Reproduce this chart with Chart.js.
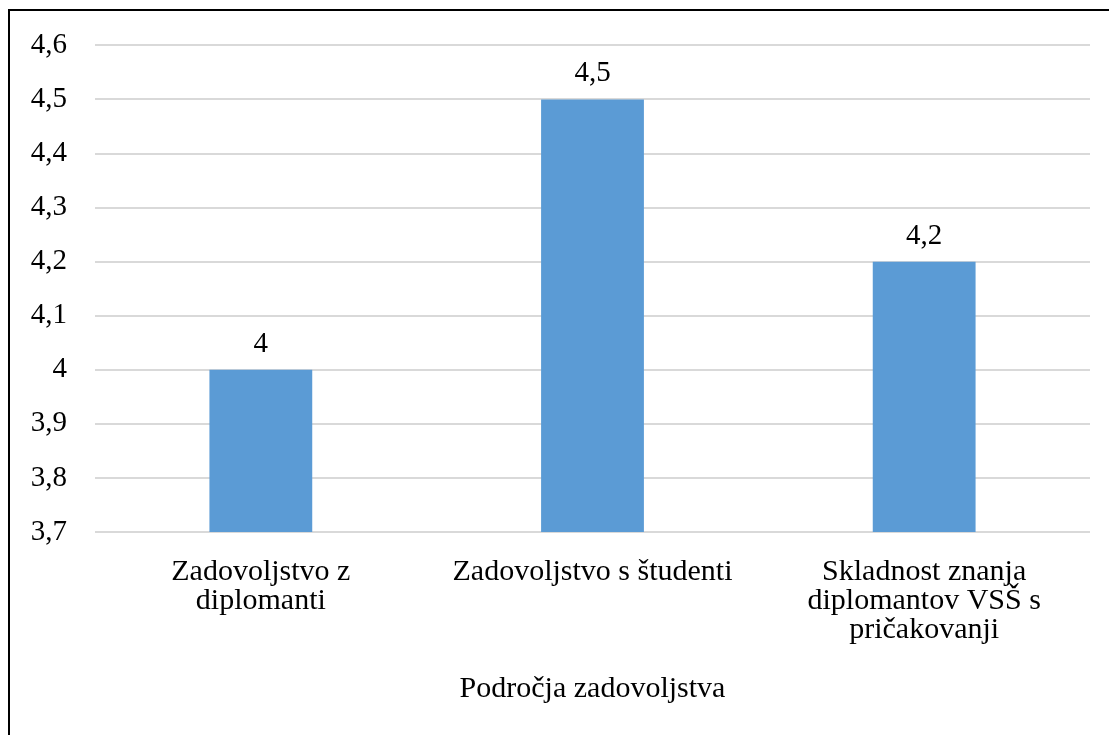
<!DOCTYPE html>
<html>
<head>
<meta charset="utf-8">
<script src="https://cdn.jsdelivr.net/npm/chart.js@4"></script>
<style>
  html, body { margin: 0; padding: 0; background: #fff; overflow: hidden; }
  #frame { position: absolute; left: 8px; top: 9px; width: 1200px; height: 800px; border: 2px solid #000; box-sizing: border-box; }
  #wrap { position: absolute; left: 0; top: 0; width: 1109px; height: 735px; }
</style>
</head>
<body>
<div id="frame"></div>
<div id="wrap"><canvas id="chart"></canvas></div>
<script>
// categories and values
const categories = [
    ['Zadovoljstvo z', 'diplomanti'],
    'Zadovoljstvo s študenti',
    ['Skladnost znanja', 'diplomantov VSŠ s', 'pričakovanji']
];
const values = [4.0, 4.5, 4.2];
const yTicks = [3.7, 3.8, 3.9, 4.0, 4.1, 4.2, 4.3, 4.4, 4.5, 4.6];
const xTitle = 'Področja zadovoljstva';

const fmt = v => String(+v.toFixed(1)).replace('.', ',');
const FONT = 'Liberation Serif';

const valueLabels = {
    id: 'valueLabels',
    afterDatasetsDraw(chart) {
        const ctx = chart.ctx;
        ctx.save();
        ctx.font = '29px "' + FONT + '"';
        ctx.fillStyle = '#000';
        ctx.textAlign = 'center';
        ctx.textBaseline = 'alphabetic';
        chart.getDatasetMeta(0).data.forEach((bar, i) => {
            ctx.fillText(fmt(values[i]), bar.x, bar.y - 18);
        });
        ctx.restore();
    }
};

const ctx = document.getElementById('chart').getContext('2d');
new Chart(ctx, {
    type: 'bar',
    data: {
        labels: categories,
        datasets: [{
            data: values,
            backgroundColor: '#5b9bd5',
            barPercentage: 0.31,
            categoryPercentage: 1
        }]
    },
    options: {
        responsive: true,
        maintainAspectRatio: false,
        animation: false,
        layout: { padding: { top: 37, right: 19, left: 0, bottom: 0 } },
        plugins: {
            legend: { display: false },
            tooltip: { enabled: false }
        },
        scales: {
            x: {
                grid: { display: false },
                border: { display: false },
                ticks: {
                    color: '#000',
                    font: { family: FONT, size: 30, lineHeight: '29px' },
                    padding: 18,
                    maxRotation: 0,
                    autoSkip: false
                },
                title: {
                    display: true,
                    text: xTitle,
                    color: '#000',
                    font: { family: FONT, size: 30 },
                    padding: { top: 10, bottom: 28 }
                },
                afterFit(scale) { scale.height = 203; }
            },
            y: {
                min: 3.7,
                max: 4.6,
                afterBuildTicks(scale) { scale.ticks = yTicks.map(v => ({ value: v })); },
                grid: { color: '#d9d9d9', lineWidth: 2, drawTicks: false },
                border: { display: false },
                ticks: {
                    color: '#000',
                    font: { family: FONT, size: 29 },
                    padding: 28,
                    callback: v => fmt(v)
                },
                afterFit(scale) { scale.width = 95; }
            }
        }
    },
    plugins: [valueLabels]
});
</script>
</body>
</html>
